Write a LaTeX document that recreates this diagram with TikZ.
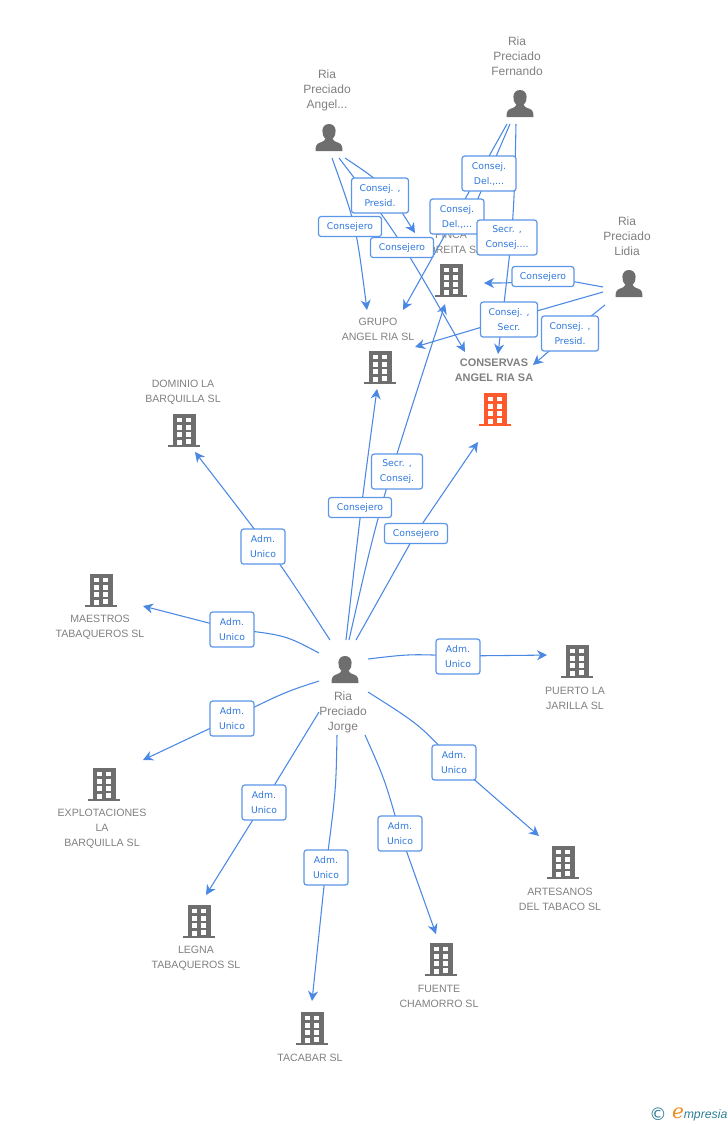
\documentclass[tikz,border=0pt]{standalone}
\usepackage{fontspec}
\setmainfont{Liberation Sans}
\newfontfamily\labfont{DejaVu Sans}
\newfontfamily\logofont{DejaVu Serif}
\usetikzlibrary{arrows.meta}
\definecolor{linkc}{HTML}{4A88E4}
\definecolor{boxc}{HTML}{5B96E8}
\definecolor{labt}{HTML}{2F78DC}
\definecolor{icong}{HTML}{6E6E6E}
\definecolor{orangeb}{HTML}{FF5A2C}
\definecolor{textg}{HTML}{808080}
\definecolor{logot}{HTML}{2F7F95}
\definecolor{logoo}{HTML}{F28C1E}
\tikzset{
  link/.style={draw=linkc,line width=0.8pt,-{Stealth[length=7.5pt,width=7.5pt,inset=2.4pt]}},
  linkstart/.style={draw=linkc,line width=0.8pt},
  lab/.style={draw=boxc,line width=0.9pt,rounded corners=2pt,fill=white,text=labt,align=center,yshift=-0.4pt,
     font=\labfont\fontsize{6.95pt}{11.25pt}\selectfont,inner sep=0pt},
  complab/.style={text=textg,align=center,yshift=-0.75pt,font=\fontsize{7.95pt}{11.25pt}\selectfont,inner sep=0pt},
  perlab/.style={text=textg,align=center,yshift=-0.75pt,font=\fontsize{9pt}{11.25pt}\selectfont,inner sep=0pt},
  mainlab/.style={text=textg,align=center,yshift=-0.75pt,font=\bfseries\fontsize{8.2pt}{11.25pt}\selectfont,inner sep=0pt},
  pics/building/.style={code={
    \fill[#1] (-11.5,-17) rectangle (11.5,14.5);
    \fill[#1] (-16,14.5) rectangle (16,16.5);
    \foreach \yy in {-12.7,-5.4,1.8}{
      \fill[white] (-7.4,\yy) rectangle (-2.2,\yy+4.4);
      \fill[white] (2.2,\yy) rectangle (7.4,\yy+4.4);}
    \fill[white] (-7.4,9) rectangle (-2.2,14.5);
    \fill[white] (2.2,8.8) rectangle (7.4,13);
  }},
  pics/person/.style={code={
    \fill[icong] (0,-14) .. controls (-8.5,-14) and (-8,-2) .. (-3.5,0.5)
      .. controls (-3.5,2.5) and (-6,3.5) .. (-9.5,4.8) .. controls (-13,6) and (-13.5,9) .. (-13.5,13)
      -- (13.5,13) .. controls (13.5,9) and (13,6) .. (9.5,4.8)
      .. controls (6,3.5) and (3.5,2.5) .. (3.5,0.5)
      .. controls (8,-2) and (8.5,-14) .. (0,-14) -- cycle;
  }},
}
\newcommand{\boxlab}[6]{\node[lab,minimum width=#4*0.75pt,minimum height=#5*0.75pt] (#1) at (#2,#3) {#6};}
\begin{document}
\begin{tikzpicture}[x=0.75pt,y=-0.75pt]
\useasboundingbox (0,0) rectangle (728,1125);
% icons
\pic at (184,430.5) {building=icong};
\pic at (101,590.5) {building=icong};
\pic at (104,784.5) {building=icong};
\pic at (199,921.5) {building=icong};
\pic at (312,1028.5) {building=icong};
\pic at (441,959.5) {building=icong};
\pic at (563,862.5) {building=icong};
\pic at (577,661.5) {building=icong};
\pic at (380,367.5) {building=icong};
\pic at (451,280.5) {building=icong};
\pic at (495,409.5) {building=orangeb};
\pic at (520,104) {person};
\pic at (329,138) {person};
\pic at (629,284) {person};
\pic at (345,670) {person};
% texts
\node[complab] (tdominio) at (183,391.5) {DOMINIO LA\\BARQUILLA SL};
\node[complab] (tmaestros) at (100,626.5) {MAESTROS\\TABAQUEROS SL};
\node[complab] (texplot) at (102,828) {EXPLOTACIONES\\LA\\BARQUILLA SL};
\node[complab] (tlegna) at (196,957.5) {LEGNA\\TABAQUEROS SL};
\node[complab] (ttacabar) at (310,1057) {TACABAR SL};
\node[complab] (tfuente) at (439,995.5) {FUENTE\\CHAMORRO SL};
\node[complab] (tartes) at (560,898.5) {ARTESANOS\\DEL TABACO SL};
\node[complab] (tpuerto) at (575,697.5) {PUERTO LA\\JARILLA SL};
\node[complab] (tgrupo) at (378,328.5) {GRUPO\\ANGEL RIA SL};
\node[complab] (tfinca) at (451,241.5) {FINCA\\MOREITA SA};
\node[mainlab] (tcons) at (494,369.5) {CONSERVAS\\ANGEL RIA SA};
\node[perlab] (tfern) at (517,55) {Ria\\Preciado\\Fernando};
\node[perlab] (tangel) at (327,89.5) {Ria\\Preciado\\Angel...};
\node[perlab] (tlidia) at (627,235) {Ria\\Preciado\\Lidia};
\node[perlab] (tjorge) at (343,711.5) {Ria\\Preciado\\Jorge};
% box centres
\coordinate (l2) at (232,629);
\coordinate (l3) at (232,718);
\coordinate (l4) at (264,802);
\coordinate (l5) at (326,867);
\coordinate (l6) at (400,833);
\coordinate (l7) at (454,762);
\coordinate (l8) at (458,656);
\coordinate (l9) at (416,533);
\coordinate (l18) at (543,276);
\coordinate (l19) at (509,319);
\coordinate (l20) at (570,333);
% ends
\coordinate (jN1) at (330,640); \coordinate (eDom) at (195,452);
\coordinate (jN2) at (319,653); \coordinate (eMae) at (143,606);
\coordinate (jN3) at (319,681); \coordinate (eExp) at (143,760);
\coordinate (jN4) at (319,712); \coordinate (eLeg) at (206,895);
\coordinate (jN5) at (337,735); \coordinate (eTac) at (312,1001);
\coordinate (jN6) at (365,735); \coordinate (eFue) at (436,934);
\coordinate (jN7) at (368,692); \coordinate (eArt) at (539,836);
\coordinate (jN8) at (368,659); \coordinate (ePue) at (547,655);
\coordinate (jN9) at (356,640); \coordinate (eCon) at (478,442);
\coordinate (jN10) at (346,640); \coordinate (eGru) at (377,389);
\coordinate (jN11) at (349,640); \coordinate (eFin) at (445,304);
\coordinate (aN1) at (332,158); \coordinate (eGru2) at (367,310);
\coordinate (aN2) at (345,158); \coordinate (eFin2) at (415,233);
\coordinate (aN3) at (339,158); \coordinate (eCon2) at (465,352);
\coordinate (fN1) at (507,124); \coordinate (eGru3) at (403,310);
\coordinate (fN2) at (510,124); \coordinate (eFin3) at (467,224);
\coordinate (fN3) at (516,124); \coordinate (eCon3) at (498,354);
\coordinate (ldN1) at (603,287); \coordinate (eFin4) at (484,283);
\coordinate (ldN2) at (603,292); \coordinate (eGru4) at (415,347);
\coordinate (ldN3) at (605,305); \coordinate (eCon4) at (533,365);
% links
\draw[link] (jN1) .. controls (274,554) .. (eDom);
\draw[linkstart] (jN2) .. controls (285,635) .. (l2); \draw[link] (l2) -- (eMae);
\draw[linkstart] (jN3) .. controls (285,692) .. (l3); \draw[link] (l3) -- (eExp);
\draw[linkstart] (jN4) -- (l4); \draw[link] (l4) -- (eLeg);
\draw[linkstart] (jN5) .. controls (336,790) .. (l5); \draw[link] (l5) -- (eTac);
\draw[linkstart] (jN6) .. controls (385,780) .. (l6); \draw[link] (l6) -- (eFue);
\draw[linkstart] (jN7) .. controls (420,725) .. (l7); \draw[link] (l7) -- (eArt);
\draw[linkstart] (jN8) .. controls (410,654) .. (l8); \draw[link] (l8) .. controls (500,656) .. (ePue);
\draw[linkstart] (jN9) -- (l9); \draw[link] (l9) -- (eCon);
\draw[link] (jN10) .. controls (362,500) .. (eGru);
\draw[link] (jN11) .. controls (379,508) .. (eFin);
\draw[link] (aN1) .. controls (356,225) .. (eGru2);
\draw[link] (aN2) .. controls (384,184) .. (eFin2);
\draw[link] (aN3) .. controls (398,235) .. (eCon2);
\draw[link] (fN1) -- (eGru3);
\draw[link] (fN2) -- (eFin3);
\draw[link] (fN3) .. controls (514,220) .. (eCon3);
\draw[linkstart] (ldN1) -- (l18); \draw[link] (l18) .. controls (515,283) .. (eFin4);
\draw[linkstart] (ldN2) -- (l19); \draw[link] (l19) -- (eGru4);
\draw[linkstart] (ldN3) -- (l20); \draw[link] (l20) -- (eCon4);
% boxes
\boxlab{b1}{263}{546}{44}{35}{Adm.\\Unico}
\boxlab{b2}{232}{629}{44}{35}{Adm.\\Unico}
\boxlab{b3}{232}{718}{44}{35}{Adm.\\Unico}
\boxlab{b4}{264}{802}{44}{35}{Adm.\\Unico}
\boxlab{b5}{326}{867}{44}{35}{Adm.\\Unico}
\boxlab{b6}{400}{833}{44}{35}{Adm.\\Unico}
\boxlab{b7}{454}{762}{44}{35}{Adm.\\Unico}
\boxlab{b8}{458}{656}{44}{35}{Adm.\\Unico}
\boxlab{b9}{416}{533}{63}{20}{Consejero}
\boxlab{b11}{397}{471}{51}{35}{Secr. ,\\Consej.}
\boxlab{b10}{360}{507}{63}{20}{Consejero}
\boxlab{b13}{380}{195}{57}{35}{Consej. ,\\Presid.}
\boxlab{b12}{350}{226}{63}{20}{Consejero}
\boxlab{b14}{402}{247}{63}{20}{Consejero}
\boxlab{b15}{457}{216}{54}{35}{Consej.\\Del.,...}
\boxlab{b16}{489}{173}{54}{35}{Consej.\\Del.,...}
\boxlab{b17}{507}{237}{60}{35}{Secr. ,\\Consej....}
\boxlab{b18}{543}{276}{62}{20}{Consejero}
\boxlab{b19}{509}{319}{57}{35}{Consej. ,\\Secr.}
\boxlab{b20}{570}{333}{57}{35}{Consej. ,\\Presid.}
% logo
\node[inner sep=0pt,text=logot,font=\labfont\fontsize{13pt}{13pt}\selectfont] (lc) at (658,1114) {©};
\node[inner sep=0pt,text=logoo,font=\logofont\itshape\fontsize{15pt}{15pt}\selectfont] (le) at (678,1113) {e};
\node[inner sep=0pt,anchor=west,text=logot,font=\itshape\fontsize{9.2pt}{10pt}\selectfont] (lm) at (683.5,1115) {mpresia};
\end{tikzpicture}
\end{document}
